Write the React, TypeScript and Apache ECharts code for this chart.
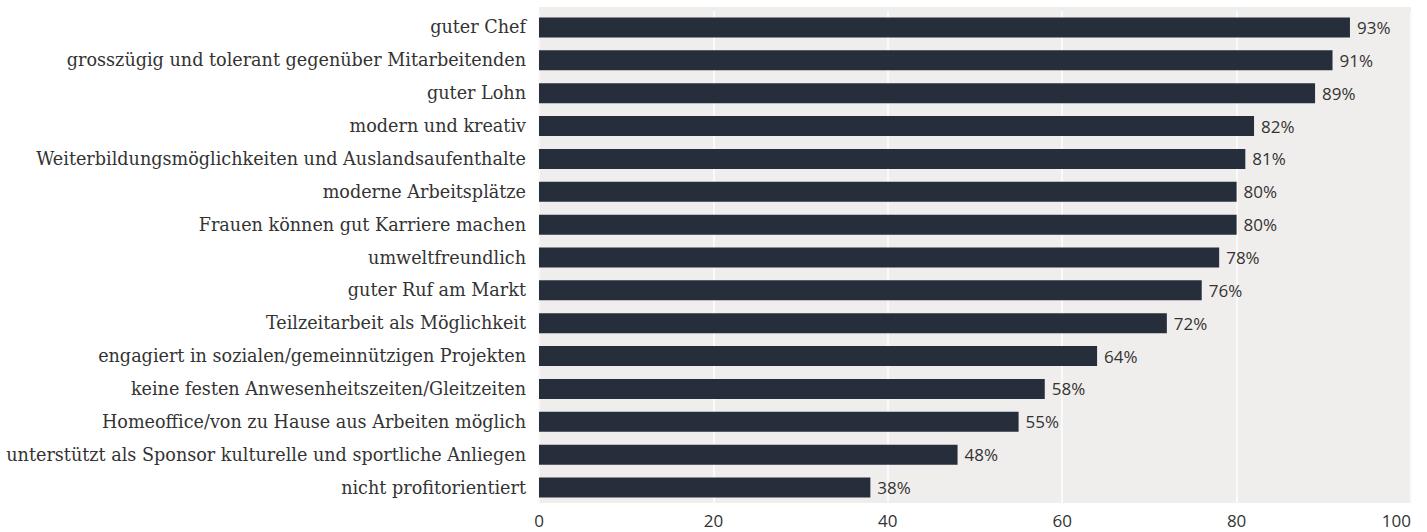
import React, { useEffect, useRef } from "react";
import * as echarts from "echarts";

const categories = [
  "guter Chef",
  "grosszügig und tolerant gegenüber Mitarbeitenden",
  "guter Lohn",
  "modern und kreativ",
  "Weiterbildungsmöglichkeiten und Auslandsaufenthalte",
  "moderne Arbeitsplätze",
  "Frauen können gut Karriere machen",
  "umweltfreundlich",
  "guter Ruf am Markt",
  "Teilzeitarbeit als Möglichkeit",
  "engagiert in sozialen/gemeinnützigen Projekten",
  "keine festen Anwesenheitszeiten/Gleitzeiten",
  "Homeoffice/von zu Hause aus Arbeiten möglich",
  "unterstützt als Sponsor kulturelle und sportliche Anliegen",
  "nicht profitorientiert",
];
const values = [93, 91, 89, 82, 81, 80, 80, 78, 76, 72, 64, 58, 55, 48, 38];

export default function App() {
  const ref = useRef<HTMLDivElement>(null);
  useEffect(() => {
    const chart = echarts.init(ref.current!, null, { renderer: "svg" });
    chart.setOption({
      animation: false,
      backgroundColor: "#ffffff",
      graphic: [
        {
          type: "rect",
          z: -10,
          silent: true,
          shape: { x: 539, y: 7, width: 872, height: 496 },
          style: { fill: "#f0eeed" },
        },
      ],
      grid: {
        left: 539,
        right: 16,
        top: 11,
        bottom: 28,
        show: false,
      },
      xAxis: {
        type: "value",
        min: 0,
        max: 100,
        interval: 20,
        axisLine: { show: false },
        axisTick: { show: false },
        splitLine: { show: true, lineStyle: { color: "#fafafa", width: 2 } },
        axisLabel: {
          color: "#333333",
          fontFamily: "Open Sans",
          fontSize: 17,
          lineHeight: 17,
          margin: 8,
          alignMaxLabel: "right",
        },
      },
      yAxis: {
        type: "category",
        data: categories,
        inverse: true,
        axisLine: { show: false },
        axisTick: { show: false },
        splitLine: { show: false },
        axisLabel: {
          color: "#333333",
          fontFamily: "DejaVu Serif",
          fontSize: 17.6,
          margin: 13,
        },
      },
      series: [
        {
          type: "bar",
          data: values,
          barWidth: 20,
          itemStyle: { color: "#262d3b" },
          label: {
            show: true,
            position: "right",
            distance: 7,
            formatter: "{c}%",
            color: "#333333",
            fontFamily: "Open Sans",
            fontSize: 17,
          },
        },
      ],
    });
    return () => chart.dispose();
  }, []);
  return (
    <div
      ref={ref}
      style={{ position: "absolute", left: 0, top: 0, width: 1427, height: 532 }}
    />
  );
}
